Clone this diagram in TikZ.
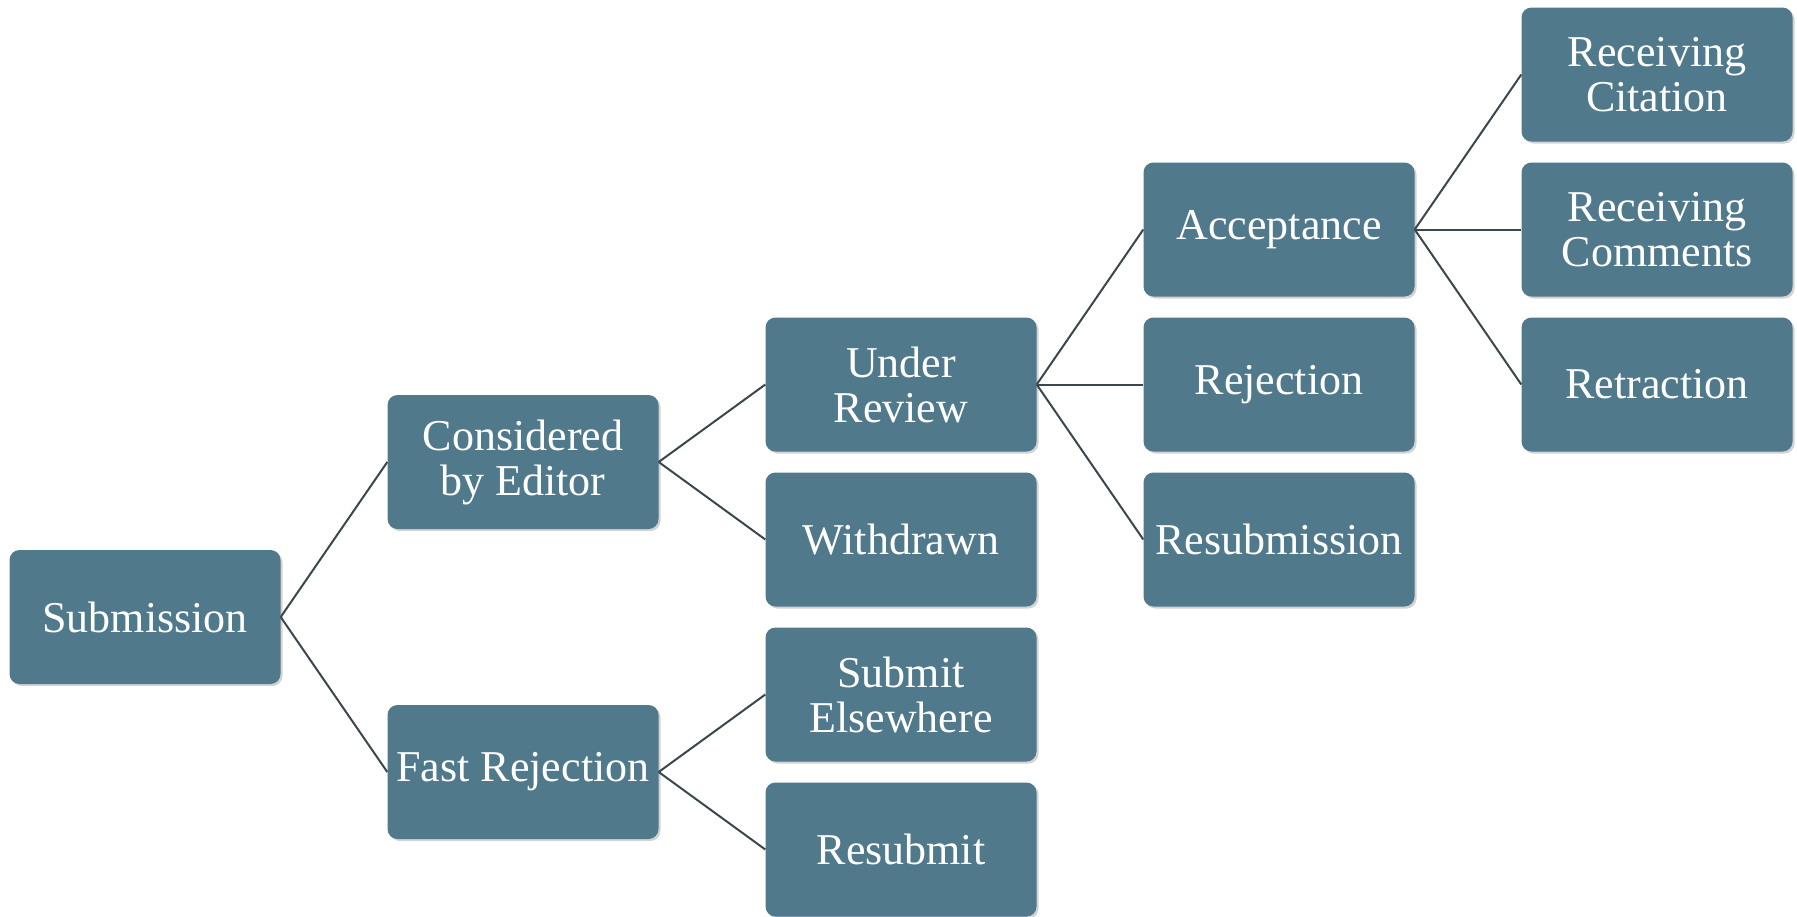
\documentclass[tikz,border=0pt]{standalone}
\usepackage{fontspec}
\setmainfont{Liberation Serif}
\usetikzlibrary{shadows}
\definecolor{boxfill}{RGB}{80,122,140}
\definecolor{linkcol}{RGB}{58,72,78}
\begin{document}
\begin{tikzpicture}[x=1pt,y=-1pt,
  stage/.style={draw=none, fill=boxfill, rounded corners=10pt,
    minimum width=271pt, minimum height=134pt, inner sep=0pt,
    text=white, align=center, font=\fontsize{44}{45}\selectfont,
    drop shadow={opacity=0.35, shadow xshift=2pt, shadow yshift=-2pt}},
  link/.style={draw=linkcol, line width=2pt}]
\useasboundingbox (0,0) rectangle (1797,916);
\node[stage] (sub) at (145,617) {Submission};
\node[stage] (cons) at (523,462) {Considered\\by Editor};
\node[stage] (fast) at (523,772) {Fast Rejection};
\node[stage] (under) at (901,384.5) {Under\\Review};
\node[stage] (with) at (901,539.5) {Withdrawn};
\node[stage] (else) at (901,694.5) {Submit\\Elsewhere};
\node[stage] (resubmit) at (901,849.5) {Resubmit};
\node[stage] (acc) at (1279,229.5) {Acceptance};
\node[stage] (rej) at (1279,384.5) {Rejection};
\node[stage] (resub) at (1279,539.5) {Resubmission};
\node[stage] (cit) at (1657,74.5) {Receiving\\Citation};
\node[stage] (com) at (1657,229.5) {Receiving\\Comments};
\node[stage] (retr) at (1657,384.5) {Retraction};
\draw[link] (sub.east) -- (cons.west);
\draw[link] (sub.east) -- (fast.west);
\draw[link] (cons.east) -- (under.west);
\draw[link] (cons.east) -- (with.west);
\draw[link] (fast.east) -- (else.west);
\draw[link] (fast.east) -- (resubmit.west);
\draw[link] (under.east) -- (acc.west);
\draw[link] (under.east) -- (rej.west);
\draw[link] (under.east) -- (resub.west);
\draw[link] (acc.east) -- (cit.west);
\draw[link] (acc.east) -- (com.west);
\draw[link] (acc.east) -- (retr.west);
\end{tikzpicture}
\end{document}
